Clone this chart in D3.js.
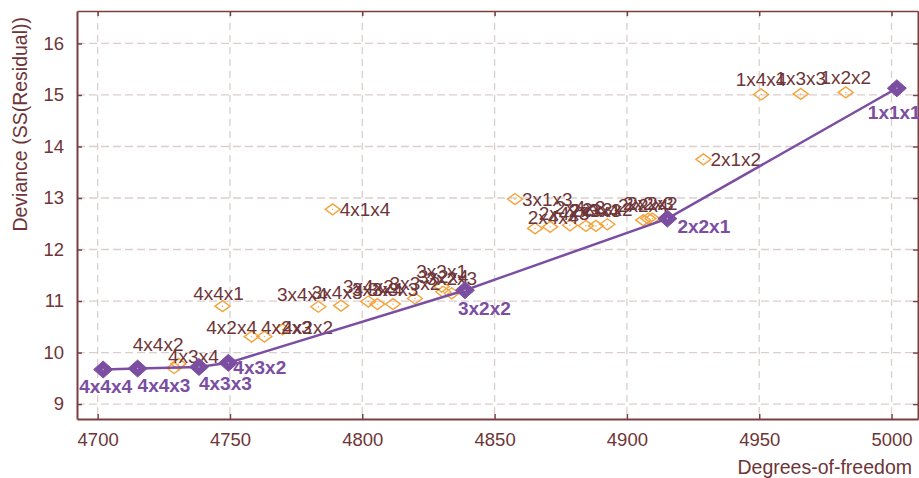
<!DOCTYPE html>
<html>
<head>
<meta charset="utf-8">
<script src="https://cdn.jsdelivr.net/npm/d3@7"></script>
<style>
  body { margin: 0; background: #fff; }
  svg text { font-family: "Liberation Sans", Arial, sans-serif; }
</style>
</head>
<body>
<svg id="chart" width="919" height="478"></svg>
<script>
// models off the front (orange hollow diamonds)
var otherNames = ['1x4x4','1x3x3','1x2x2','2x1x2','3x1x3','4x1x4','4x4x1',
  '4x4x2','4x3x4','4x2x4','4x2x3','4x2x2',
  '3x4x4','3x4x3','3x4x2','3x3x4','3x3x3','3x3x2','3x3x1','3x2x4','3x2x3',
  '2x4x4','2x4x3','2x4x2','2x3x4','2x3x3','2x3x2','2x2x4','2x2x3','2x2x2'];
var otherDof = [4950.7, 4965.7, 4982.7, 4928.9, 4857.7, 4788.8, 4747.2,
  4728.9, 4730.5, 4758.2, 4763.0, 4769.9,
  4783.4, 4792.0, 4802.3, 4805.7, 4811.6, 4819.9, 4830.0, 4830.6, 4833.8,
  4865.3, 4871.0, 4878.5, 4884.5, 4888.3, 4892.6, 4906.2, 4908.1, 4909.6];
var otherDev = [15.01, 15.02, 15.05, 13.75, 12.98, 12.78, 10.90,
  9.70, 9.78, 10.31, 10.31, 10.45,
  10.89, 10.91, 10.99, 10.94, 10.94, 11.05, 11.28, 11.18, 11.15,
  12.41, 12.44, 12.47, 12.46, 12.46, 12.49, 12.57, 12.60, 12.60];

// the front (purple line)
var frontNames = ['4x4x4','4x4x3','4x3x3','4x3x2','3x2x2','2x2x1','1x1x1'];
var frontDof = [4702.1, 4715.1, 4738.3, 4749.4, 4838.8, 4915.3, 5002.0];
var frontDev = [9.67, 9.69, 9.72, 9.80, 11.21, 12.60, 15.13];

var xTicks = [4700, 4750, 4800, 4850, 4900, 4950, 5000];
var yTicks = [9, 10, 11, 12, 13, 14, 15, 16];

// label layout
var rightLabels = ['2x1x2', '3x1x3', '4x1x4'];
var labelNudge = {
  '4x4x2': [-16, -24], '4x3x4': [15, -7], '4x2x4': [-20, -9],
  '4x2x3': [22, -9], '4x2x2': [25, -2], '4x4x1': [-4, -13],
  '3x4x4': [-16, -12], '3x4x3': [-4, -13],
  '2x4x4': [18, -11], '2x4x3': [14, -13], '2x4x2': [10, -18], '2x3x4': [8, -15]
};
var frontNudge = [[-24, 17], [0, 17], [0, 17], [5, 5], [-7, 18], [10, 8], [-29, 24]];

var plotL = 77, plotR = 918, plotT = 11, plotB = 419;
var textCol = '#6e3538', axisCol = '#7a3f40', gridCol = '#d9d0cc';
var orange = '#f5a33c', purple = '#7b4ea2';

var svg = d3.select('#chart');
var x = d3.scaleLinear().domain([4692.2, 5010]).range([plotL, plotR]);
var y = d3.scaleLinear().domain([8.71, 16.63]).range([plotB, plotT]);

// grid
svg.append('g').selectAll('line').data(xTicks).enter().append('line')
  .attr('x1', function (d) { return x(d); }).attr('x2', function (d) { return x(d); })
  .attr('y1', plotT).attr('y2', plotB)
  .attr('stroke', gridCol).attr('stroke-width', 1.3).attr('stroke-dasharray', '7,5');
svg.append('g').selectAll('line').data(yTicks).enter().append('line')
  .attr('x1', plotL).attr('x2', plotR)
  .attr('y1', function (d) { return y(d); }).attr('y2', function (d) { return y(d); })
  .attr('stroke', gridCol).attr('stroke-width', 1.3).attr('stroke-dasharray', '8,4');

// axes, ticks inward, mirrored
var styleAxis = function (g) {
  g.select('.domain').attr('stroke', axisCol).attr('stroke-width', 2);
  g.selectAll('.tick line').attr('stroke', axisCol).attr('stroke-width', 1.5);
  g.selectAll('.tick text').attr('fill', textCol).style('font-size', '18.5px');
};
svg.append('g').attr('transform', 'translate(0,' + plotB + ')')
  .call(d3.axisBottom(x).tickValues(xTicks).tickFormat(d3.format('d')).tickSizeInner(-5).tickSizeOuter(0).tickPadding(14))
  .call(styleAxis);
svg.append('g').attr('transform', 'translate(' + plotL + ',0)')
  .call(d3.axisLeft(y).tickValues(yTicks).tickFormat(d3.format('d')).tickSizeInner(-5).tickSizeOuter(0).tickPadding(13))
  .call(styleAxis);
svg.append('g').attr('transform', 'translate(0,' + plotT + ')')
  .call(d3.axisTop(x).tickValues(xTicks).tickFormat('').tickSizeInner(-5).tickSizeOuter(0))
  .call(styleAxis).select('.domain').attr('stroke-width', 1.5);
svg.append('g').attr('transform', 'translate(' + plotR + ',0)')
  .call(d3.axisRight(y).tickValues(yTicks).tickFormat('').tickSizeInner(-5).tickSizeOuter(0))
  .call(styleAxis);

// axis titles
svg.append('text').attr('x', 912).attr('y', 474).attr('text-anchor', 'end')
  .attr('fill', textCol).style('font-size', '19.5px').text('Degrees-of-freedom');
svg.append('text').attr('transform', 'translate(27,17) rotate(-90)').attr('text-anchor', 'end')
  .attr('fill', textCol).style('font-size', '19.5px').text('Deviance (SS(Residual))');

var diamond = function (hw, hh) {
  return 'M' + (-hw) + ',0L0,' + (-hh) + 'L' + hw + ',0L0,' + hh + 'Z';
};

var others = otherNames.map(function (n, i) { return { name: n, dof: otherDof[i], dev: otherDev[i] }; });
var front = frontNames.map(function (n, i) { return { name: n, dof: frontDof[i], dev: frontDev[i], nudge: frontNudge[i] }; });

// orange points
var og = svg.append('g').selectAll('g').data(others).enter().append('g')
  .attr('transform', function (d) { return 'translate(' + x(d.dof) + ',' + y(d.dev) + ')'; });
og.append('path').attr('d', diamond(7.5, 5.5))
  .attr('fill', 'none').attr('stroke', orange).attr('stroke-width', 1.4);
og.append('circle').attr('r', 0.7).attr('fill', orange);

// orange labels
svg.append('g').selectAll('text').data(others).enter().append('text')
  .attr('fill', textCol).style('font-size', '19px')
  .attr('dominant-baseline', 'central')
  .attr('text-anchor', function (d) { return rightLabels.indexOf(d.name) >= 0 ? 'start' : 'middle'; })
  .attr('x', function (d) {
    if (rightLabels.indexOf(d.name) >= 0) return x(d.dof) + 7;
    return x(d.dof) + (labelNudge[d.name] ? labelNudge[d.name][0] : 0);
  })
  .attr('y', function (d) {
    if (rightLabels.indexOf(d.name) >= 0) return y(d.dev);
    return y(d.dev) + (labelNudge[d.name] ? labelNudge[d.name][1] : -15);
  })
  .text(function (d) { return d.name; });

// front line
svg.append('path').datum(front)
  .attr('d', d3.line().x(function (d) { return x(d.dof); }).y(function (d) { return y(d.dev); }))
  .attr('fill', 'none').attr('stroke', purple).attr('stroke-width', 2.5);

var pg = svg.append('g').selectAll('g').data(front).enter().append('g')
  .attr('transform', function (d) { return 'translate(' + x(d.dof) + ',' + y(d.dev) + ')'; });
pg.append('path').attr('d', diamond(9.5, 8.5)).attr('fill', purple).attr('stroke', purple).attr('stroke-width', 1);
pg.append('circle').attr('r', 0.8).attr('fill', '#b9a0d0');

svg.append('g').selectAll('text').data(front).enter().append('text')
  .attr('fill', purple).style('font-size', '19px').style('font-weight', 'bold')
  .attr('dominant-baseline', 'central')
  .attr('x', function (d) { return x(d.dof) + d.nudge[0]; })
  .attr('y', function (d) { return y(d.dev) + d.nudge[1]; })
  .text(function (d) { return d.name; });
</script>
</body>
</html>
